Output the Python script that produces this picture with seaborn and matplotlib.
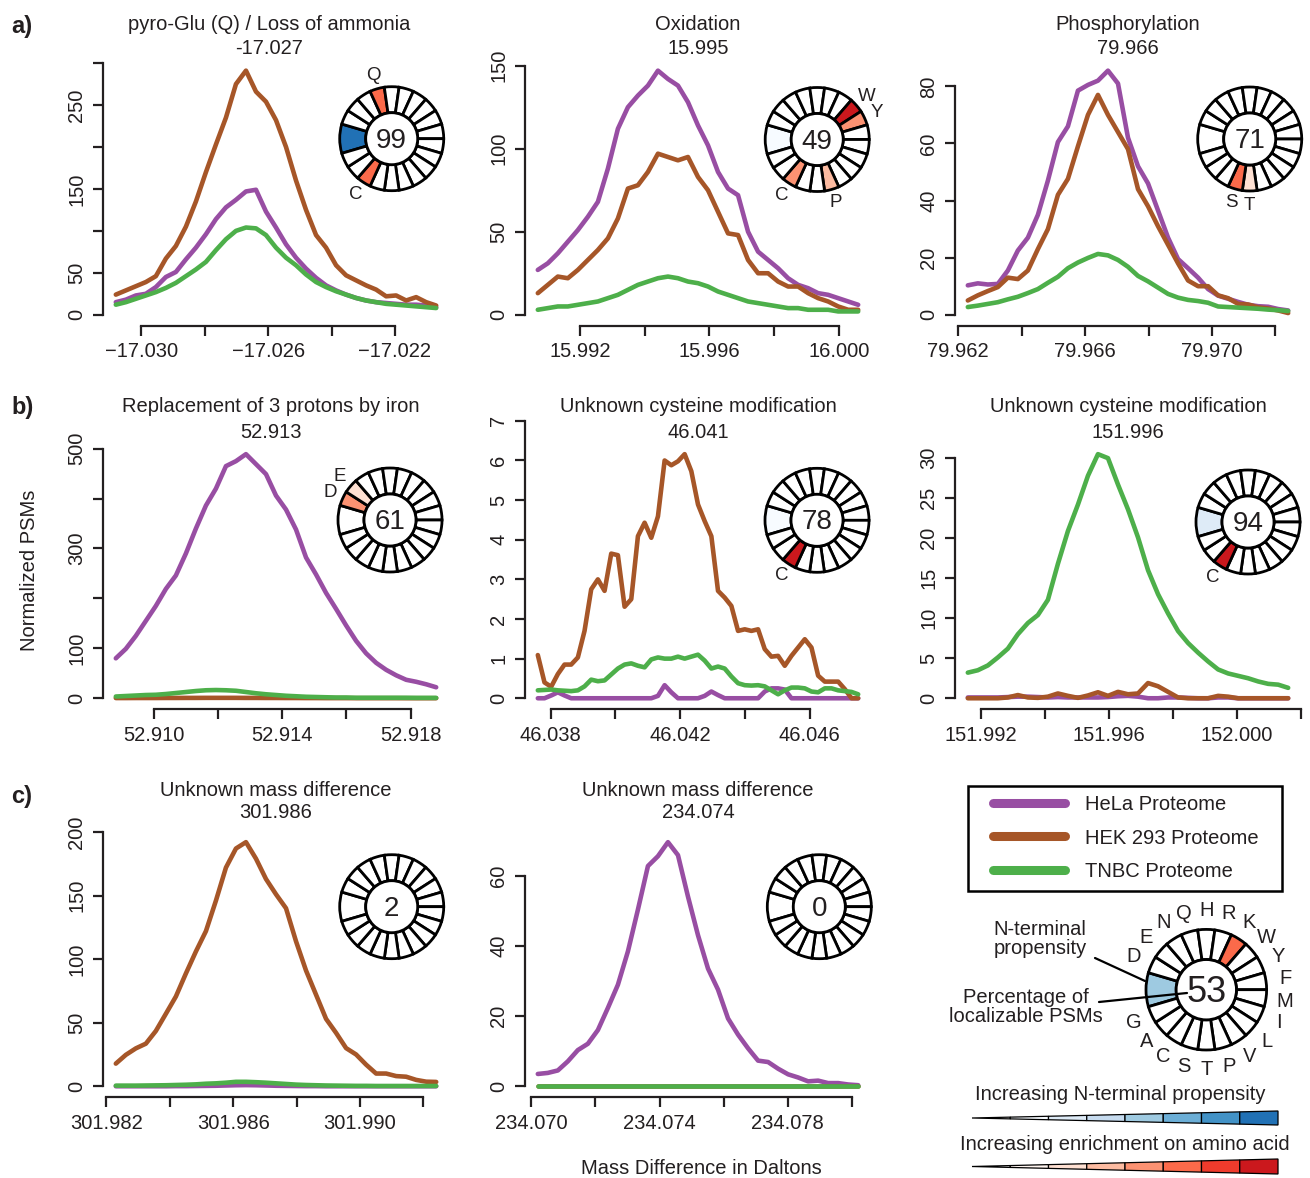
import numpy as np
import pandas as pd
import matplotlib
matplotlib.use("Agg")
import matplotlib.pyplot as plt
from matplotlib.patches import Wedge, Circle, Polygon, Rectangle
from matplotlib.lines import Line2D
import seaborn as sns

# ---------------------------------------------------------------- data
proteomes = ["HeLa Proteome", "HEK 293 Proteome", "TNBC Proteome"]
proteome_colors = ["#984EA3", "#A65628", "#4DAF4A"]

panel_titles = ["pyro-Glu (Q) / Loss of ammonia", "Oxidation", "Phosphorylation",
                "Replacement of 3 protons by iron", "Unknown cysteine modification",
                "Unknown cysteine modification", "Unknown mass difference",
                "Unknown mass difference"]
panel_masses = ["-17.027", "15.995", "79.966", "52.913", "46.041", "151.996",
                "301.986", "234.074"]
mass_ranges = [(-17.0308, -17.0207), (15.9907, 16.0006), (79.9623, 79.9724),
               (52.9088, 52.9188), (46.0376, 46.0475), (151.9916, 152.0016),
               (301.9823, 301.9924), (234.0702, 234.0802)]

x_ticks = [[-17.030, -17.028, -17.026, -17.024, -17.022],
           [15.992, 15.994, 15.996, 15.998, 16.000],
           [79.962, 79.964, 79.966, 79.968, 79.970, 79.972],
           [52.910, 52.912, 52.914, 52.916, 52.918],
           [46.038, 46.040, 46.042, 46.044, 46.046],
           [151.992, 151.994, 151.996, 151.998, 152.000, 152.002],
           [301.982, 301.984, 301.986, 301.988, 301.990, 301.992],
           [234.070, 234.072, 234.074, 234.076, 234.078, 234.080]]
x_ticklabels = [["\u221217.030", "", "\u221217.026", "", "\u221217.022"],
                ["15.992", "", "15.996", "", "16.000"],
                ["79.962", "", "79.966", "", "79.970", ""],
                ["52.910", "", "52.914", "", "52.918"],
                ["46.038", "", "46.042", "", "46.046"],
                ["151.992", "", "151.996", "", "152.000", ""],
                ["301.982", "", "301.986", "", "301.990", ""],
                ["234.070", "", "234.074", "", "234.078", ""]]
y_ticks = [[0, 50, 100, 150, 200, 250, 300],
           [0, 50, 100, 150],
           [0, 20, 40, 60, 80],
           [0, 100, 200, 300, 400, 500],
           [0, 1, 2, 3, 4, 5, 6, 7],
           [0, 5, 10, 15, 20, 25, 30],
           [0, 50, 100, 150, 200],
           [0, 20, 40, 60]]
y_ticklabels = [["0", "50", "", "150", "", "250", ""],
                ["0", "50", "100", "150"],
                ["0", "20", "40", "60", "80"],
                ["0", "100", "", "300", "", "500"],
                ["0", "1", "2", "3", "4", "5", "6", "7"],
                ["0", "5", "10", "15", "20", "25", "30"],
                ["0", "50", "100", "150", "200"],
                ["0", "20", "40", "60"]]

# normalized PSMs (evenly spaced mass bins)
hela_pyroglu = [15, 18, 23, 25, 33, 45, 51, 66, 80, 96, 114, 128, 137, 147, 149, 123, 104,
                84, 68, 55, 44, 35, 29, 24, 20, 17, 15, 14, 13, 12, 12, 11, 9]
hek_pyroglu = [24, 29, 34, 39, 46, 67, 82, 105, 135, 170, 203, 235, 275, 291, 266, 254, 232,
               200, 160, 125, 95, 80, 59, 47, 41, 35, 30, 22, 23, 17, 21, 15, 11]
tnbc_pyroglu = [12, 15, 19, 23, 27, 32, 38, 46, 54, 63, 77, 90, 100, 104, 103, 95, 80, 68,
                59, 48, 39, 33, 28, 24, 20, 17, 15, 13, 12, 11, 10, 9, 8]

hela_oxidation = [27, 31, 37, 44, 51, 59, 68, 88, 112, 125, 132, 138, 147, 142, 138, 128, 114,
                  102, 86, 76, 72, 50, 38, 33, 28, 22, 18, 16, 13, 12, 10, 8, 6]
hek_oxidation = [13, 18, 23, 22, 27, 33, 39, 46, 58, 76, 78, 86, 97, 95, 93, 95, 83, 75, 62,
                 49, 48, 33, 25, 25, 20, 17, 17, 13, 10, 8, 5, 3, 3]
tnbc_oxidation = [3, 4, 5, 5, 6, 7, 8, 10, 12, 15, 18, 20, 22, 23, 22, 20, 19, 17, 14, 12, 10,
                  8, 7, 6, 5, 4, 4, 3, 3, 3, 2, 2, 2]

hela_phospho = [10.3, 11, 10.6, 10.8, 15.5, 22.5, 27, 35, 47, 60.5, 66, 78.5, 80.5, 82, 85.5,
                81, 62, 52, 46, 36.5, 27, 19.5, 16.3, 13, 9, 6.7, 5.6, 4.5, 3.5, 3, 2.8, 2, 1.5]
hek_phospho = [5, 6.8, 8.3, 9.7, 13, 12.5, 15.5, 23, 30, 42, 47.6, 59, 70, 77, 70, 64, 58, 44,
               38, 31, 24.5, 18, 12, 10, 10, 6.8, 5.8, 3.8, 3.6, 2.6, 2.2, 1.5, 0.6]
tnbc_phospho = [2.7, 3.2, 3.8, 4.4, 5.4, 6.3, 7.6, 9.0, 11.2, 13.3, 16.3, 18.3, 19.9, 21.3,
                20.8, 19.2, 16.8, 13.6, 11.7, 9.5, 7.3, 6.0, 5.2, 4.8, 4.2, 2.9, 2.7, 2.5,
                2.3, 2.1, 1.8, 1.6, 1.3]

hela_iron = [80, 99, 125, 155, 185, 219, 246, 290, 340, 386, 420, 465, 475, 489, 469, 449,
             406, 378, 338, 282, 248, 211, 179, 146, 115, 90, 71, 57, 46, 37, 33, 28, 22]
hek_iron = [0.4, 0.4, 0.5, 0.5, 0.5, 0.6, 0.6, 0.7, 0.7, 0.8, 0.8, 0.8, 0.8, 0.7, 0.7, 0.6,
            0.6, 0.5, 0.5, 0.4, 0.4, 0.3, 0.3, 0.3, 0.2, 0.2, 0.2, 0.2, 0.2, 0.1, 0.1, 0.1, 0.1]
tnbc_iron = [3.5, 4.5, 5.5, 6.5, 7, 8.5, 10.5, 12.5, 14.5, 16, 16.5, 16, 15, 12.5, 10, 8, 6.5,
             5, 4, 3, 2.5, 2, 1.5, 1.5, 1, 1, 1, 1, 1, 1, 0.8, 0.8, 0.8]

hela_cys46 = [0, 0, 0.07, 0.15, 0.07, 0, 0, 0, 0, 0, 0, 0, 0, 0, 0, 0, 0, 0, 0.06, 0.33,
              0.15, 0, 0, 0, 0, 0.06, 0.17, 0.08, 0, 0, 0, 0, 0, 0, 0.17, 0.25, 0.25, 0.22,
              0, 0, 0, 0, 0, 0, 0, 0, 0, 0, 0]
hek_cys46 = [1.09, 0.40, 0.29, 0.61, 0.85, 0.85, 1.03, 1.70, 2.75, 3.00, 2.71, 3.65, 3.61,
             2.31, 2.50, 4.09, 4.43, 4.05, 4.59, 6.00, 5.88, 5.98, 6.16, 5.73, 4.89, 4.47,
             4.09, 2.71, 2.54, 2.33, 1.70, 1.74, 1.70, 1.74, 1.24, 1.05, 1.07, 0.82, 1.07,
             1.28, 1.49, 1.28, 0.57, 0.42, 0.42, 0.42, 0.23, 0.00, 0.00]
tnbc_cys46 = [0.20, 0.21, 0.22, 0.20, 0.19, 0.18, 0.20, 0.30, 0.47, 0.43, 0.45, 0.60, 0.75,
              0.85, 0.88, 0.82, 0.78, 0.98, 1.03, 1.00, 1.00, 1.05, 1.00, 1.05, 1.10, 0.95,
              0.75, 0.80, 0.75, 0.55, 0.38, 0.33, 0.32, 0.33, 0.30, 0.20, 0.10, 0.20, 0.27,
              0.27, 0.25, 0.17, 0.15, 0.25, 0.25, 0.20, 0.18, 0.16, 0.10]

hela_cys152 = [0.1, 0.1, 0.1, 0.1, 0.15, 0.2, 0.2, 0.15, 0.1, 0.15, 0.1, 0.1, 0.1, 0.1, 0.15,
               0.25, 0.3, 0.2, 0, 0, 0.1, 0.1, 0.05, 0, 0, 0.1, 0.1, 0, 0, 0, 0, 0, 0]
hek_cys152 = [0, 0, 0, 0, 0.1, 0.4, 0.1, 0.05, 0.2, 0.6, 0.3, 0.05, 0.35, 0.75, 0.3, 0.8, 0.5,
              0.6, 1.9, 1.5, 0.8, 0.1, 0, 0, 0, 0.3, 0.2, 0, 0, 0, 0, 0, 0]
tnbc_cys152 = [3.2, 3.5, 4.1, 5.1, 6.2, 8.0, 9.4, 10.4, 12.3, 16.8, 20.9, 24.2, 27.8, 30.5,
               30.0, 26.7, 23.6, 20.1, 16.0, 13.0, 10.6, 8.4, 6.9, 5.7, 4.6, 3.6, 3.1, 2.8,
               2.5, 2.1, 1.8, 1.7, 1.3]

hela_u302 = [0, 0, 0, 0, 0, 0, 0.1, 0.1, 0.2, 0.3, 0.4, 0.6, 0.8, 0.9, 0.8, 0.6, 0.4, 0.3,
             0.2, 0.1, 0.1, 0, 0, 0, 0, 0, 0, 0, 0, 0, 0, 0, 0]
hek_u302 = [17.8, 24.7, 29.8, 33.5, 43.5, 57, 70.6, 88.7, 106, 122, 146, 172, 187, 192, 179,
            163, 151, 140, 114, 91, 72, 53, 42, 30, 25, 17, 10, 10, 8, 7.5, 5, 3.6, 3.4]
tnbc_u302 = [0.5, 0.5, 0.5, 0.6, 0.7, 0.8, 1, 1.2, 1.5, 2, 2.3, 2.8, 3.5, 3.5, 3.2, 2.8, 2.3,
             1.8, 1.3, 1, 0.8, 0.6, 0.5, 0.4, 0.3, 0.3, 0.2, 0.2, 0.2, 0.2, 0.2, 0.2, 0.2]

hela_u234 = [3.5, 3.8, 4.5, 7.1, 10.3, 12.1, 16, 22.3, 28.9, 38.4, 50.3, 62.7, 65.5, 69.5,
             65.8, 54, 43, 33.5, 27.5, 19.3, 14.7, 10.8, 7.3, 6.9, 5, 3.4, 2.5, 1.4, 1.6,
             0.9, 0.9, 0.5, 0.3]
hek_u234 = [0, 0, 0, 0, 0, 0, 0, 0, 0, 0, 0, 0, 0, 0, 0, 0, 0, 0, 0, 0, 0, 0, 0, 0, 0, 0,
            0, 0, 0, 0, 0, 0, 0]
tnbc_u234 = [0, 0, 0, 0, 0, 0, 0, 0, 0, 0, 0, 0, 0, 0, 0, 0, 0, 0, 0, 0, 0, 0, 0, 0, 0, 0,
             0, 0, 0, 0, 0, 0, 0]

panel_series = [(hela_pyroglu, hek_pyroglu, tnbc_pyroglu),
                (hela_oxidation, hek_oxidation, tnbc_oxidation),
                (hela_phospho, hek_phospho, tnbc_phospho),
                (hela_iron, hek_iron, tnbc_iron),
                (hela_cys46, hek_cys46, tnbc_cys46),
                (hela_cys152, hek_cys152, tnbc_cys152),
                (hela_u302, hek_u302, tnbc_u302),
                (hela_u234, hek_u234, tnbc_u234)]

# localization wheels
amino_acids = list("DENQHRKWYFMILVPTSCAG")
wheel_percent = [99, 49, 71, 61, 78, 94, 2, 0]
nterm_level = [7, 1, 0, 0, 1, 2, 0, 0]
aa_enrichment = [{"Q": 5, "C": 5}, {"W": 7, "Y": 4, "C": 4, "P": 3}, {"S": 5, "T": 2},
                 {"D": 4, "E": 2}, {"C": 7}, {"C": 7}, {}, {}]
key_percent = 53
key_nterm_level = 4
key_enrichment = {"K": 5}

blues = ["#ffffff", "#f7fbff", "#deebf7", "#c6dbef", "#9ecae1", "#6baed6", "#4292c6", "#2171b5"]
reds = ["#ffffff", "#fff5f0", "#fee0d2", "#fcbba1", "#fc9272", "#fb6a4a", "#ef3b2c", "#cb181d"]

# ---------------------------------------------------------------- style
sns.set_style("ticks")
plt.rcParams["font.family"] = ["Liberation Sans", "DejaVu Sans"]
TXT = "#231f20"
plt.rcParams["text.color"] = TXT
plt.rcParams["axes.edgecolor"] = TXT
plt.rcParams["xtick.color"] = TXT
plt.rcParams["ytick.color"] = TXT

FW, FH = 1310, 1178
fig = plt.figure(figsize=(FW / 100, FH / 100), dpi=100)
fig.patch.set_facecolor("white")


def fx(px):
    return px / FW


def fy(py):
    return 1 - py / FH


col_left = [103, 525, 955]
row_bottom = [325.5, 709, 1097]
title_rows = [(25, 48), (407, 432), (790, 813)]
title_dx = [-7, 0, 0, -5, 0, 0, 0, 0]
AX_W, AX_H = 346, 290
wheel_centers = [(391.7, 138.7), (817.2, 139.5), (1249.7, 139.0),
                 (390.0, 520.0), (817.0, 520.3), (1248.0, 522.0),
                 (391.7, 906.7), (819.3, 906.7)]
UNIT = 360.0 / 22


def draw_wheel(cx, cy, R, pct, nlev, enrich, fs_num, fs_lab, all_labels=False, lab_r=1.27):
    half = R * 1.7
    wax = fig.add_axes([fx(cx - half), fy(cy + half), 2 * half / FW, 2 * half / FH])
    lim = half / R
    wax.set_xlim(-lim, lim)
    wax.set_ylim(-lim, lim)
    wax.axis("off")
    wax.add_patch(Wedge((0, 0), 1, 180 - UNIT, 180 + UNIT, width=0.5,
                        facecolor=blues[nlev], edgecolor="black", lw=2.0))
    for k, aa in enumerate(amino_acids):
        c = 180 - 1.5 * UNIT - k * UNIT
        lev = enrich.get(aa, 0)
        wax.add_patch(Wedge((0, 0), 1, c - UNIT / 2, c + UNIT / 2, width=0.5,
                            facecolor=reds[lev], edgecolor="black", lw=2.0))
        if all_labels or aa in enrich:
            t = np.deg2rad(c)
            wax.text(lab_r * np.cos(t), lab_r * np.sin(t), aa, ha="center",
                     va="center", fontsize=fs_lab)
    wax.add_patch(Circle((0, 0), 0.5, facecolor="white", edgecolor="black", lw=2.0))
    wax.text(0, -0.04, str(pct), ha="center", va="center", fontsize=fs_num)
    return wax


for i in range(8):
    r, c = divmod(i, 3)
    left = col_left[c]
    bottom = row_bottom[r]
    ax = fig.add_axes([fx(left), fy(bottom), AX_W / FW, AX_H / FH])
    lo, hi = mass_ranges[i]
    series = panel_series[i]
    n = len(series[0])
    mass = np.linspace(lo, hi, n)
    df = pd.DataFrame({
        "mass": np.concatenate([mass] * 3),
        "psm": np.concatenate([np.asarray(s, float) for s in series]),
        "proteome": np.repeat(proteomes, n),
    })
    sns.lineplot(data=df, x="mass", y="psm", hue="proteome", hue_order=proteomes,
                 palette=proteome_colors, lw=3.3, legend=False, ax=ax,
                 estimator=None, sort=False, solid_joinstyle="round",
                 solid_capstyle="round")
    ymax = 1.1 * df["psm"].max()
    ax.set_xticks(x_ticks[i])
    ax.set_xticklabels(x_ticklabels[i])
    ax.set_yticks(y_ticks[i])
    ax.set_yticklabels(y_ticklabels[i], rotation=90, va="center")
    span = hi - lo
    ax.set_xlim(lo - 0.04 * span, hi + 0.04 * span)
    ax.set_ylim(-0.04 * ymax, 1.04 * ymax)
    ax.set_xlabel("")
    ax.set_ylabel("")
    sns.despine(ax=ax)
    ax.spines["left"].set_bounds(y_ticks[i][0], y_ticks[i][-1])
    ax.spines["bottom"].set_bounds(x_ticks[i][0], x_ticks[i][-1])
    for sp in ("left", "bottom"):
        ax.spines[sp].set_linewidth(1.6)
    ax.tick_params(direction="out", length=7, width=1.6, labelsize=14.5, pad=5)
    ax.patch.set_alpha(0)

    ty1, ty2 = title_rows[r]
    tx = left + AX_W / 2 + title_dx[i]
    fig.text(fx(tx), fy(ty1), panel_titles[i], ha="center", va="center", fontsize=14.5)
    fig.text(fx(tx), fy(ty2), panel_masses[i], ha="center", va="center", fontsize=14.5)

    wcx, wcy = wheel_centers[i]
    draw_wheel(wcx, wcy, 52, wheel_percent[i], nterm_level[i], aa_enrichment[i],
               fs_num=20, fs_lab=13.5)

# panel letters and shared labels
for letter, ly in zip(["a)", "b)", "c)"], [27, 408, 796]):
    fig.text(fx(11), fy(ly), letter, ha="left", va="center", fontsize=17,
             fontweight="bold")
fig.text(fx(30), fy(570), "Normalized PSMs", rotation=90, ha="center", va="center",
         fontsize=14.5)
fig.text(fx(701), fy(1168), "Mass Difference in Daltons", ha="center", va="center",
         fontsize=14.5)

# legend (frame drawn separately so the padding matches)
handles = [Line2D([0], [0], color=col, lw=6.5, solid_capstyle="round")
           for col in proteome_colors]
leg = fig.legend(handles, proteomes, loc="upper left",
                 bbox_to_anchor=(fx(992.5), fy(795)), frameon=False, fontsize=14.5,
                 handlelength=3.62, handletextpad=0.95, labelspacing=0.72,
                 borderpad=0, borderaxespad=0)

# key wheel
draw_wheel(1206.3, 989.7, 60.3, key_percent, key_nterm_level, key_enrichment,
           fs_num=26, fs_lab=14.5, all_labels=True, lab_r=1.32)

# overlay in pixel coordinates for key annotations and ramps
ov = fig.add_axes([0, 0, 1, 1])
ov.set_xlim(0, FW)
ov.set_ylim(FH, 0)
ov.axis("off")
ov.add_patch(Rectangle((968, 786), 314, 105, fill=False, edgecolor="black", lw=1.8))

ov.text(1040, 939, "N-terminal\npropensity", ha="center", va="center", fontsize=14.5,
        linespacing=1.05)
ov.text(1026, 1007, "Percentage of\nlocalizable PSMs", ha="center", va="center",
        fontsize=14.5, linespacing=1.05)
ov.plot([1095, 1145], [958, 981], color="black", lw=1.6)
ov.plot([1099, 1187], [1002, 993], color="black", lw=1.6)


def draw_ramp(x0, x1, yc, half_h, colors):
    nseg = len(colors)
    xs = np.linspace(x0, x1, nseg + 1)
    for k, col in enumerate(colors):
        h0 = half_h * (xs[k] - x0) / (x1 - x0)
        h1 = half_h * (xs[k + 1] - x0) / (x1 - x0)
        ov.add_patch(Polygon([(xs[k], yc - h0), (xs[k + 1], yc - h1),
                              (xs[k + 1], yc + h1), (xs[k], yc + h0)], closed=True,
                             facecolor=col, edgecolor="black", lw=0.9))


ov.text(1120, 1095, "Increasing N-terminal propensity", ha="center", va="center",
        fontsize=14.5)
draw_ramp(972, 1278, 1118, 7, blues)
ov.text(1125, 1145, "Increasing enrichment on amino acid", ha="center", va="center",
        fontsize=14.5)
draw_ramp(972, 1278, 1166.5, 7.5, reds)

fig.savefig("out.png", dpi=100, facecolor="white")
